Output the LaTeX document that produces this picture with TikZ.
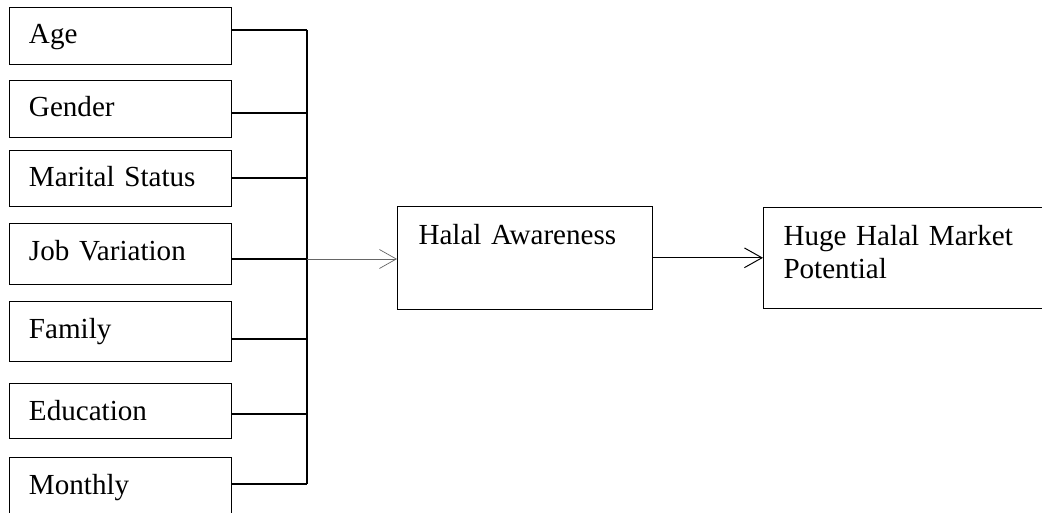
\documentclass[tikz,border=0pt]{standalone}
\usepackage{fontspec}
\setmainfont{Liberation Serif}
\usetikzlibrary{arrows.meta,positioning,calc}

\begin{document}
\begin{tikzpicture}[
  factor/.style={draw=black, line width=0.7pt, inner xsep=0.5cm, inner ysep=0pt, text width=4.55cm, align=left, text height=0.925cm, font=\fontsize{20.7}{23.5}\selectfont},
  bigbox/.style={draw=black, line width=0.7pt, inner xsep=0.5cm, inner ysep=0pt, align=left, text height=0.94cm, font=\fontsize{20.7}{23.5}\selectfont},
  joint/.style={black, line width=1.3pt},
  feed/.style={gray!80!black, line width=0.5pt, -{Straight Barb[length=12pt, width=13.5pt]}},
  lead/.style={black, line width=0.7pt, -{Straight Barb[length=12.5pt, width=14pt]}},
]
% 1px of the reference = 0.025cm
\useasboundingbox (0,0) rectangle (26.05,-12.825);

\foreach \nm/\labl/\yc/\h/\yb in {
  age/Age/-0.8875/1.425/-0.75,
  gender/Gender/-2.7125/1.425/-2.825,
  marital/{Marital Status}/-4.45/1.4/-4.45,
  job/{Job Variation}/-6.3375/1.525/-6.475,
  family/Family/-8.275/1.5/-8.475,
  educ/Education/-10.2625/1.375/-10.35,
  income/Monthly/-12.1375/1.425/-12.1
} {
  \pgfmathsetmacro{\dd}{\h - 0.925}
  \node[factor, text depth=\dd cm] (\nm) at (3.0,\yc) {\labl};
  \coordinate (b-\nm) at (7.675,\yb);
  \draw[joint] (\nm.east |- b-\nm) -- (b-\nm);
}
\draw[joint] (b-age) -- (b-income);

\node[bigbox, text width=5.325cm, inner xsep=0.525cm, text depth=1.625cm, anchor=north west] (halal) at (9.925,-5.15) {Halal Awareness};
\node[bigbox, text width=6.225cm, text depth=1.585cm, anchor=north west] (huge) at (19.075,-5.175) {Huge Halal Market\\Potential};

\draw[feed] (b-job) -- (b-job -| halal.west);
\draw[lead] (halal.east) -- (halal.east -| huge.west);
\end{tikzpicture}
\end{document}
